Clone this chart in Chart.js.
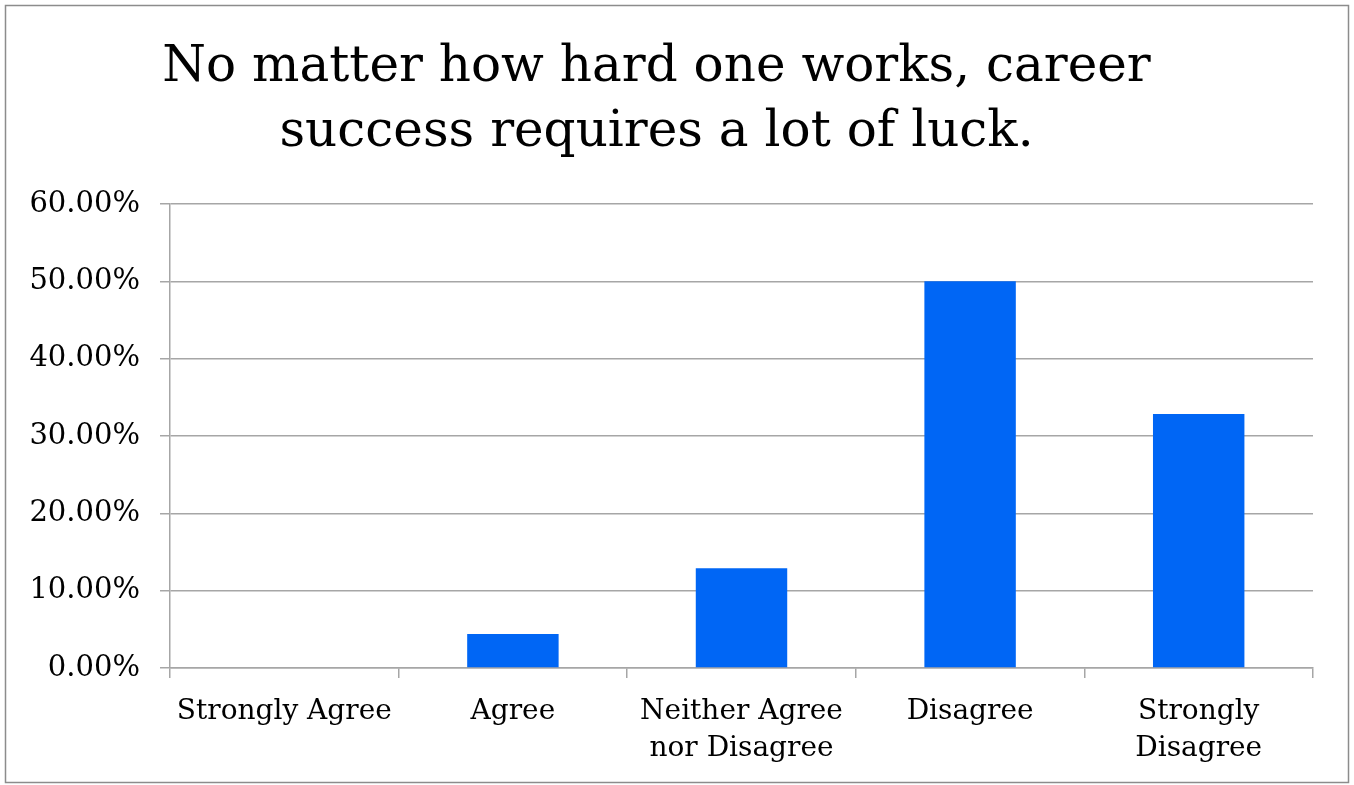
<!DOCTYPE html>
<html>
<head>
<meta charset="utf-8">
<script src="https://cdn.jsdelivr.net/npm/chart.js@4.4.0/dist/chart.umd.min.js"></script>
<style>
    html, body { margin: 0; padding: 0; background: #ffffff; }
    #wrap { width: 1354px; height: 785px; position: relative; }
</style>
</head>
<body>
<div id="wrap"><canvas id="luck-chart" width="1354" height="785"></canvas></div>
<script>
// Survey answers (share of respondents, %)
const categories = ['Strongly Agree', 'Agree', ['Neither Agree', 'nor Disagree'], 'Disagree', ['Strongly', 'Disagree']];
const shares = [0, 4.4, 12.9, 50.0, 32.85];
const yTicks = [0, 10, 20, 30, 40, 50, 60];

const FONT = "'DejaVu Serif', 'Liberation Serif', serif";
const GRID = '#a6a6a6';

// white background + thin frame around the whole chart
const framePlugin = {
    id: 'frame',
    beforeDraw(chart) {
        const c = chart.ctx;
        c.save();
        c.fillStyle = '#ffffff';
        c.fillRect(0, 0, chart.width, chart.height);
        c.strokeStyle = '#8c8c8c';
        c.lineWidth = 1.5;
        c.strokeRect(5.5, 5.5, chart.width - 11, chart.height - 8);
        c.restore();
    }
};

new Chart(document.getElementById('luck-chart'), {
    type: 'bar',
    data: {
        labels: categories,
        datasets: [{
            data: shares,
            backgroundColor: '#0066f5',
            borderWidth: 0,
            categoryPercentage: 0.8,
            barPercentage: 0.5
        }]
    },
    plugins: [framePlugin],
    options: {
        responsive: false,
        animation: false,
        devicePixelRatio: 1,
        layout: { padding: { left: 0, right: 41, top: 36, bottom: 0 } },
        plugins: {
            legend: { display: false },
            tooltip: { enabled: false },
            title: {
                display: true,
                text: ['No matter how hard one works, career', 'success requires a lot of luck.'],
                color: '#000000',
                font: { family: FONT, size: 50, weight: 'normal', lineHeight: 1.3 },
                padding: { top: 0, bottom: 38 }
            }
        },
        scales: {
            x: {
                grid: {
                    offset: true,
                    drawOnChartArea: false,
                    drawTicks: true,
                    tickLength: 10,
                    color: GRID,
                    lineWidth: 1.5
                },
                border: { color: GRID, width: 1.5 },
                ticks: {
                    color: '#000000',
                    font: { family: FONT, size: 28, lineHeight: 1.3 },
                    padding: 16,
                    maxRotation: 0
                },
                afterFit(scale) { scale.height = 117; }
            },
            y: {
                min: 0,
                max: 60,
                afterBuildTicks(scale) {
                    scale.ticks = yTicks.map(v => ({ value: v }));
                },
                grid: {
                    color: GRID,
                    lineWidth: 1.5,
                    drawTicks: true,
                    tickLength: 10
                },
                border: { color: GRID, width: 1.5 },
                ticks: {
                    color: '#000000',
                    font: { family: FONT, size: 29 },
                    padding: 20,
                    callback: v => v.toFixed(2) + '%'
                },
                afterFit(scale) { scale.width = 170; }
            }
        }
    }
});
</script>
</body>
</html>
